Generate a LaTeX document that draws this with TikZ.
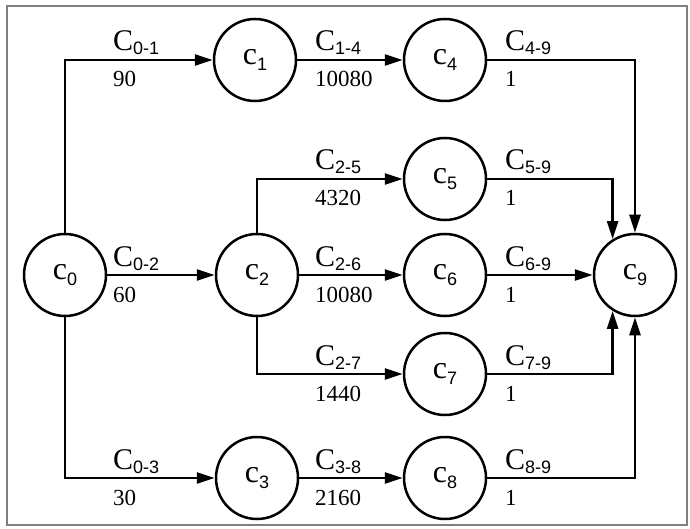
\documentclass[tikz,border=0pt]{standalone}
\usepackage{fontspec}
\setmainfont{Liberation Serif}
\setsansfont{Liberation Sans}
\usepackage{xcolor}
\usepackage{tikz}
\usetikzlibrary{arrows.meta}
\definecolor{framegray}{HTML}{7F7F7F}
\tikzset{
  task/.style={
    circle,
    draw=black,
    line width=2.5pt,
    fill=white,
    minimum size=82pt,
    inner sep=0pt,
    font=\rmfamily\fontsize{32}{32}\selectfont
  },
  flow/.style={line width=2.5pt, draw=black, -{Triangle[length=18pt,width=11pt]}},
  costname/.style={anchor=base west, inner sep=0pt, font=\rmfamily\fontsize{30}{30}\selectfont},
  costval/.style={anchor=base west, inner sep=0pt, font=\rmfamily\fontsize{23}{23}\selectfont},
  outline/.style={draw=framegray, line width=1.5pt}
}
\newcommand{\lowsub}[3]{#1\raisebox{-#3}{\fontsize{18}{18}\selectfont\sffamily #2}}
\newcommand{\costpair}[5]{%
  \node[costname] (n#1) at (#2,#3-9) {\lowsub{C}{#4}{4pt}};
  \node[costval] (v#1) at (#2,#3+27) {#5};
}

\begin{document}
\begin{tikzpicture}[x=1pt,y=-1pt]
\path[use as bounding box] (0,0) rectangle (690,529);
\fill[white] (0,0) rectangle (690,529);
\draw[outline] (7,6) rectangle (687,525);

\node[task] (c0) at (65,275) {\lowsub{c}{0}{6pt}};
\node[task] (c1) at (255,60) {\lowsub{c}{1}{6pt}};
\node[task] (c2) at (257,275) {\lowsub{c}{2}{6pt}};
\node[task] (c3) at (257,478) {\lowsub{c}{3}{6pt}};
\node[task] (c4) at (445,60) {\lowsub{c}{4}{6pt}};
\node[task] (c5) at (445,179) {\lowsub{c}{5}{6pt}};
\node[task] (c6) at (445,275) {\lowsub{c}{6}{6pt}};
\node[task] (c7) at (445,374) {\lowsub{c}{7}{6pt}};
\node[task] (c8) at (445,478) {\lowsub{c}{8}{6pt}};
\node[task] (c9) at (635,275) {\lowsub{c}{9}{6pt}};

\draw[flow] (c0.north) |- (c1.west);
\draw[flow] (c0) -- (c2);
\draw[flow] (c0.south) |- (c3.west);
\draw[flow] (c1) -- (c4);
\draw[flow] (c2.north) |- (c5.west);
\draw[flow] (c2) -- (c6);
\draw[flow] (c2.south) |- (c7.west);
\draw[flow] (c3) -- (c8);
\draw[flow] (c4.east) -| (c9.north);
\draw[flow] (c5.east) -| (c9.122);
\draw[flow] (c6) -- (c9);
\draw[flow] (c7.east) -| (c9.238);
\draw[flow] (c8.east) -| (c9.south);

\costpair{01}{113}{60}{0-1}{90}
\costpair{02}{113}{275}{0-2}{60}
\costpair{03}{113}{478}{0-3}{30}
\costpair{14}{315}{60}{1-4}{10080}
\costpair{25}{315}{179}{2-5}{4320}
\costpair{26}{315}{275}{2-6}{10080}
\costpair{27}{315}{374}{2-7}{1440}
\costpair{38}{315}{478}{3-8}{2160}
\costpair{49}{505}{60}{4-9}{1}
\costpair{59}{505}{179}{5-9}{1}
\costpair{69}{505}{275}{6-9}{1}
\costpair{79}{505}{374}{7-9}{1}
\costpair{89}{505}{478}{8-9}{1}

\end{tikzpicture}
\end{document}
